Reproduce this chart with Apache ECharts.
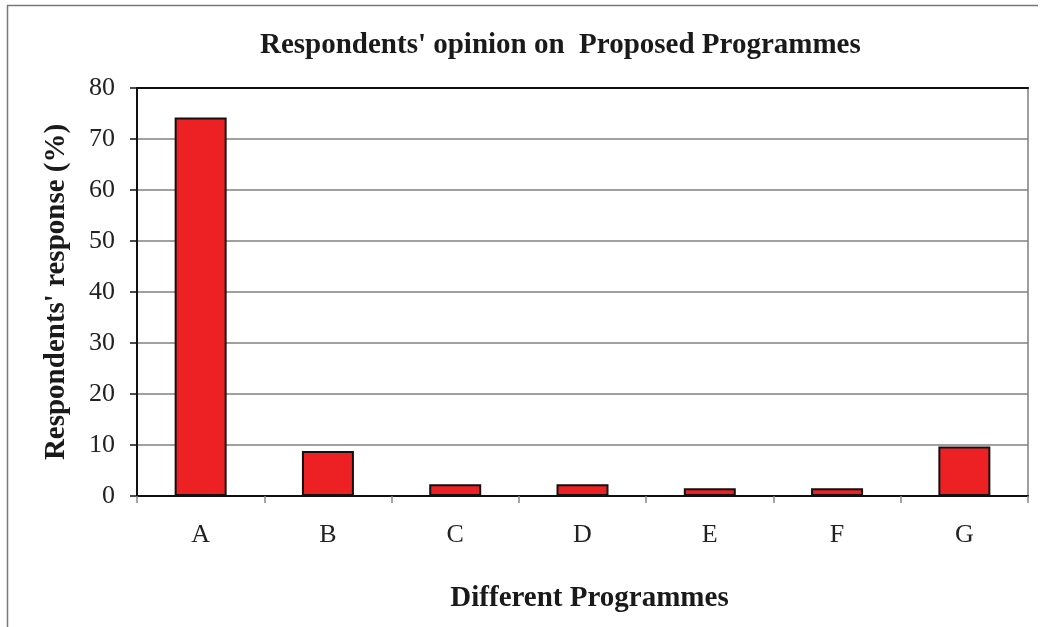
<!DOCTYPE html>
<html>
<head>
<meta charset="utf-8">
<script src="https://cdn.jsdelivr.net/npm/echarts@6/dist/echarts.min.js"></script>
<style>
  html, body { margin: 0; padding: 0; background: #fff; }
  #chart { width: 1048px; height: 627px; }
</style>
</head>
<body>
<div id="chart"></div>
<script>
// Programme categories and share of respondents (%) favouring each
const programmes = ['A', 'B', 'C', 'D', 'E', 'F', 'G'];
const responses = [74.2, 8.8, 2.3, 2.3, 1.5, 1.5, 9.7];
const yTicks = { min: 0, max: 80, interval: 10 };

const FONT = '"Liberation Serif", "Times New Roman", serif';

const chart = echarts.init(document.getElementById('chart'), null, { renderer: 'canvas' });

chart.setOption({
  backgroundColor: '#ffffff',
  animation: false,
  title: {
    text: "Respondents' opinion on  Proposed Programmes",
    left: 255,
    top: 26,
    textStyle: { fontFamily: FONT, fontSize: 29, fontWeight: 'bold', color: '#1a1a1a' }
  },
  graphic: [
    { type: 'line', shape: { x1: 7, y1: 5.5, x2: 1038, y2: 5.5 }, style: { stroke: '#777', lineWidth: 1.5 } },
    { type: 'line', shape: { x1: 7.5, y1: 5, x2: 7.5, y2: 627 }, style: { stroke: '#777', lineWidth: 1.5 } }
  ],
  grid: {
    left: 137, right: 20, top: 88, bottom: 131,
    show: true, borderColor: '#808080', borderWidth: 1.5
  },
  xAxis: [
    {
      type: 'category',
      data: programmes,
      boundaryGap: true,
      name: 'Different Programmes',
      nameLocation: 'middle',
      nameGap: 88,
      nameTextStyle: { fontFamily: FONT, fontSize: 29, fontWeight: 'bold', color: '#1a1a1a', padding: [0, 0, 0, 14] },
      axisLine: { show: true, lineStyle: { color: '#111', width: 2 } },
      axisTick: { show: true, alignWithLabel: false, length: 7, lineStyle: { color: '#888', width: 1.5 } },
      axisLabel: { margin: 26, fontFamily: FONT, fontSize: 26, color: '#222' },
      splitLine: { show: false }
    },
    {
      type: 'category',
      data: programmes,
      position: 'top',
      axisLine: { show: true, lineStyle: { color: '#111', width: 2 } },
      axisTick: { show: false },
      axisLabel: { show: false }
    }
  ],
  yAxis: {
    type: 'value',
    min: yTicks.min,
    max: yTicks.max,
    interval: yTicks.interval,
    name: "Respondents' response (%)",
    nameLocation: 'middle',
    nameGap: 66,
    nameTextStyle: { fontFamily: FONT, fontSize: 29, fontWeight: 'bold', color: '#1a1a1a' },
    axisLine: { show: true, lineStyle: { color: '#111', width: 2 } },
    axisTick: { show: true, length: 7, lineStyle: { color: '#111', width: 1.5 } },
    axisLabel: { margin: 22, fontFamily: FONT, fontSize: 26, color: '#222' },
    splitLine: { show: true, lineStyle: { color: '#808080', width: 1.5 } }
  },
  series: [{
    type: 'bar',
    data: responses,
    barWidth: 52,
    itemStyle: { color: '#ED2024', borderColor: '#111', borderWidth: 2 }
  }]
});
</script>
</body>
</html>
